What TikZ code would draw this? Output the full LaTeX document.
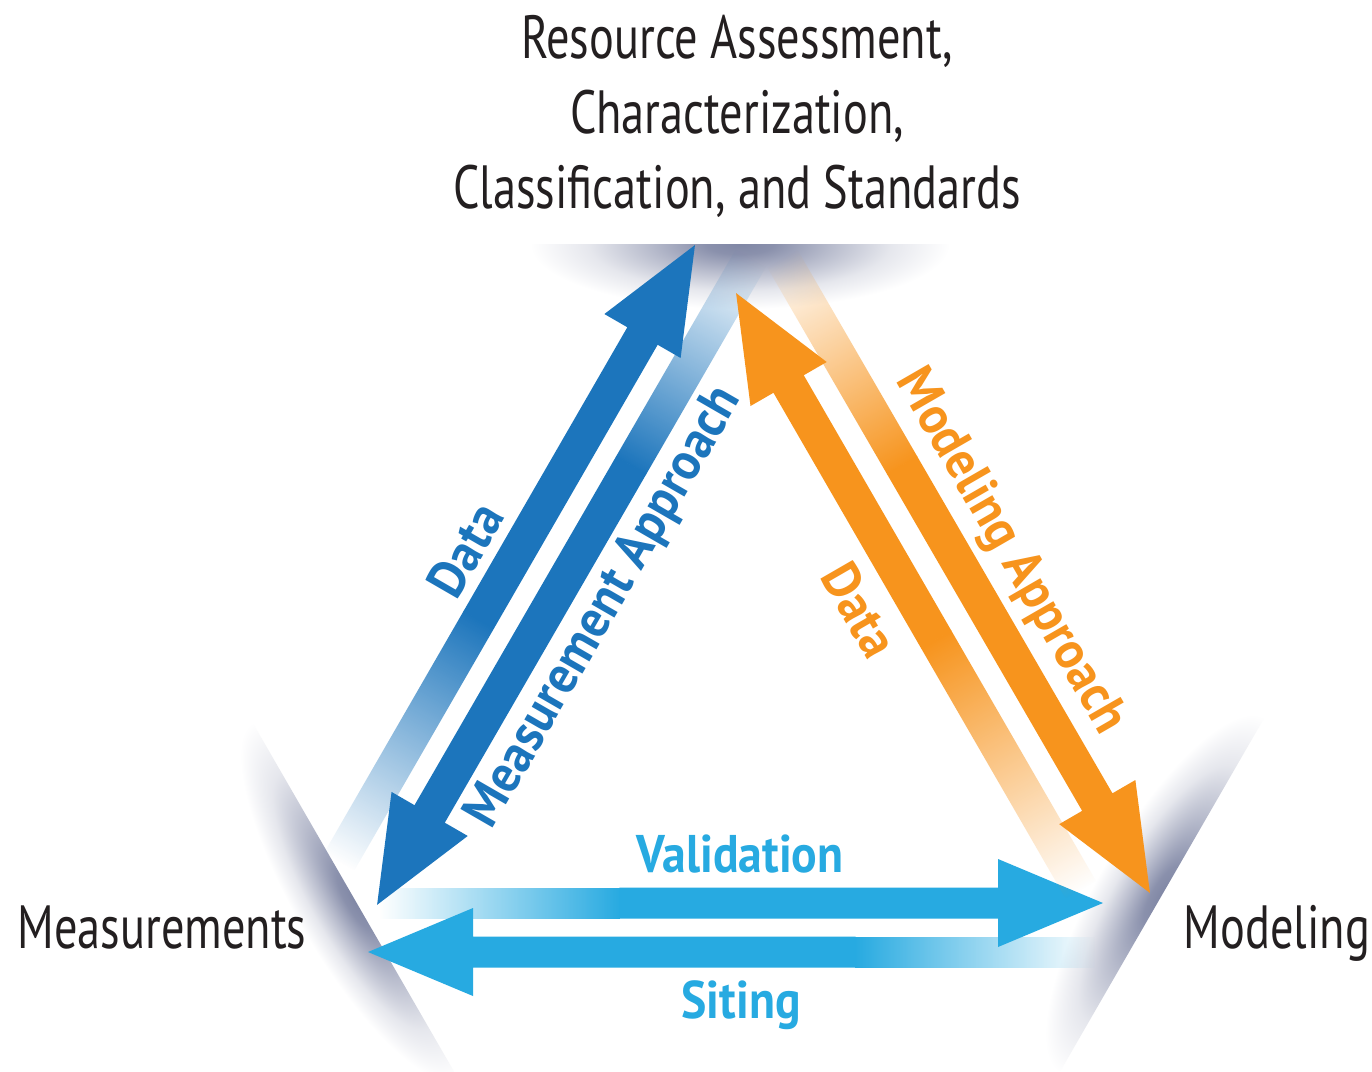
\documentclass[tikz,border=0pt]{standalone}
\usepackage{fontspec}
\setmainfont{PT Sans}
\newfontfamily\condfont{PT Sans}[FakeStretch=0.76]
\newfontfamily\labfont{PT Sans}[FakeStretch=0.9]
\newfontfamily\sidefont{PT Sans}[FakeStretch=0.93]
\usetikzlibrary{fadings}

\definecolor{dblue}{HTML}{1C75BC}
\definecolor{lblue}{HTML}{27AAE1}
\definecolor{orng}{HTML}{F7941D}
\definecolor{ink}{HTML}{231F20}
\definecolor{glowdark}{RGB}{128,135,165}

% soft grey glow used for the three corner slits
\pgfdeclareradialshading{cornerglow}{\pgfpoint{0bp}{0bp}}{%
  color(0bp)=(glowdark); color(4bp)=(glowdark!92!white);
  color(11bp)=(glowdark!55!white); color(18bp)=(glowdark!20!white);
  color(25bp)=(white); color(50bp)=(white)}

% arrow tails fade in from transparent
\tikzfading[name=tailfade, left color=transparent!100, right color=transparent!0]

% #1 tail, #2 tip, #3 colour, #4 shaft half width, #5 fade length
\newcommand\flowarrow[5]{%
  \path (#1); \pgfgetlastxy{\fax}{\fay}%
  \path (#2); \pgfgetlastxy{\fbx}{\fby}%
  \pgfmathsetmacro\fang{atan2((\fby)-(\fay),(\fbx)-(\fax))}%
  \pgfmathsetmacro\flen{veclen((\fbx)-(\fax),(\fby)-(\fay))}%
  \pgfmathsetmacro\fneck{\flen-105}%
  \begin{scope}[transform canvas={shift={(\fax,\fay)},rotate=\fang}]
    \fill[#3, path fading=tailfade] (0,-#4) rectangle (#5,#4);
    \fill[#3] (#5-0.6,-#4) -- (\fneck,-#4) -- (\fneck,-44) -- (\flen,0)
      -- (\fneck,44) -- (\fneck,#4) -- (#5-0.6,#4) -- cycle;
  \end{scope}}

% #1 centre x, #2 centre y, #3 rotation, #4 side (1 or -1), #5 length, #6 depth
\newcommand\cornerslit[6]{%
  \begin{scope}[transform canvas={shift={(#1,#2)},rotate=#3}]
    \clip (-270,0) rectangle (270,#4*110);
    \shade[shading=cornerglow] (0,0) ellipse [x radius=#5, y radius=#6];
  \end{scope}}

\tikzset{
  corner/.style={inner sep=0pt, text=ink, font=\condfont\fontsize{61}{75}\selectfont},
  flowlab/.style={inner sep=0pt, font=\labfont\bfseries\fontsize{53}{60}\selectfont},
  sidelab/.style={inner sep=0pt, font=\sidefont\bfseries\fontsize{53}{60}\selectfont},
}

\begin{document}
\begin{tikzpicture}[x=1pt,y=1pt]
\useasboundingbox[fill=white] (0,-1071) rectangle (1372,0);

% corner slits
\cornerslit{740}{-244}{0}{-1}{210}{65}
\cornerslit{355}{-900}{-60}{-1}{205}{60}
\cornerslit{1162}{-895}{60}{1}{205}{65}

% arrow end points
\coordinate (valTail) at (380,-903);  \coordinate (valTip) at (1103,-903);
\coordinate (sitTail) at (1095,-952); \coordinate (sitTip) at (368,-952);
\coordinate (mdTail) at (339,-862);   \coordinate (mdTip) at (695,-245);
\coordinate (maTail) at (751,-258);   \coordinate (maTip) at (377,-905);
\coordinate (odTail) at (1081,-890);  \coordinate (odTip) at (736,-293);
\coordinate (oaTail) at (782,-258);   \coordinate (oaTip) at (1150,-893);

% arrows
\flowarrow{valTail}{valTip}{lblue}{15.5}{240}
\flowarrow{sitTail}{sitTip}{lblue}{15.5}{240}
\flowarrow{mdTail}{mdTip}{dblue}{17.5}{280}
\flowarrow{maTail}{maTip}{dblue}{17.5}{240}
\flowarrow{odTail}{odTip}{orng}{17.5}{290}
\flowarrow{oaTail}{oaTip}{orng}{17.5}{240}

% labels
\node[corner, align=center, anchor=north] (res) at (737,-15)
  {Resource Assessment,\\Characterization,\\Classification, and Standards};
\node[corner, anchor=base] (meas) at (162,-948) {Measurements};
\node[corner, anchor=base] (model) at (1277,-948) {Modeling};

\node[flowlab, text=lblue, anchor=base] (val) at (740,-872) {Validation};
\node[flowlab, text=lblue, anchor=base] (sit) at (741,-1018) {Siting};
\node[sidelab, text=dblue, rotate=60] (dataL) at (465,-550) {Data};
\node[sidelab, text=dblue, rotate=60] (measA) at (605,-608) {Measurement Approach};
\node[sidelab, text=orng, rotate=-60] (dataR) at (860,-610) {Data};
\node[sidelab, text=orng, rotate=-60] (modA) at (1010,-552) {Modeling Approach};
\end{tikzpicture}
\end{document}
